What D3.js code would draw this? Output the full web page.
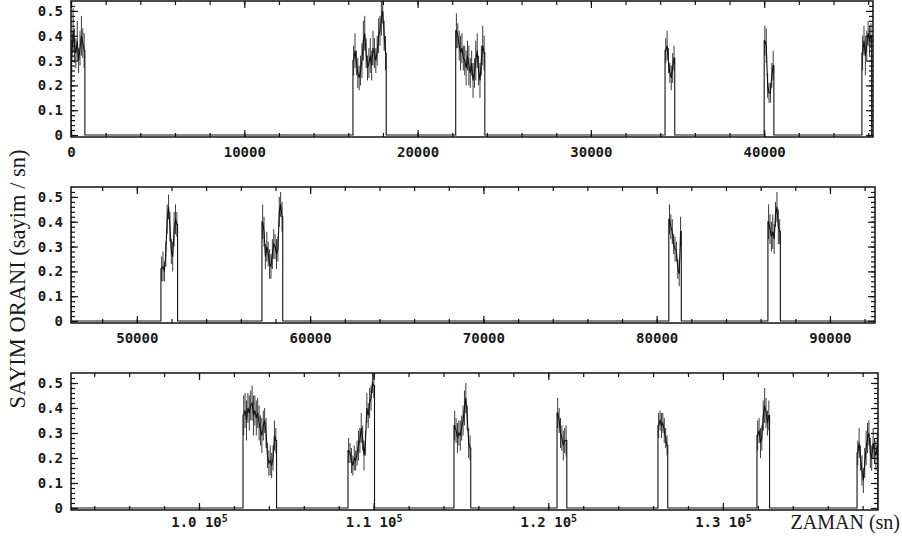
<!DOCTYPE html>
<html>
<head>
<meta charset="utf-8">
<script src="https://cdn.jsdelivr.net/npm/d3@7"></script>
<style>
  body { margin: 0; background: #fff; }
  svg { display: block; }
  .tick text { font-family: "DejaVu Sans Mono", monospace; font-weight: bold; font-size: 14px; fill: #1a1a1a; }
</style>
</head>
<body>
<div id="chart"></div>
<script>
// Light curve bins: start time of each observing window, 80 s bins
const binSize = 80;
const segStart = [0, 16270, 22200, 34280, 40000, 45640, 51390, 57220, 80700, 86420,
  102520, 108530, 114600, 120500, 126280, 131950, 137680];

const segRate = [
  [0.30, 0.42, 0.36, 0.33, 0.38, 0.30, 0.35, 0.40, 0.37, 0.34],
  [0.30, 0.34, 0.29, 0.25, 0.23, 0.26, 0.30, 0.38, 0.41, 0.33, 0.27, 0.29, 0.32, 0.28, 0.35, 0.33, 0.30, 0.34, 0.40, 0.42, 0.47, 0.50, 0.40, 0.33],
  [0.42, 0.40, 0.36, 0.33, 0.35, 0.31, 0.30, 0.27, 0.32, 0.28, 0.25, 0.29, 0.22, 0.25, 0.30, 0.34, 0.26, 0.22, 0.30, 0.36, 0.33],
  [0.34, 0.36, 0.30, 0.25, 0.23, 0.27, 0.31],
  [0.38, 0.36, 0.20, 0.17, 0.17, 0.24, 0.28],
  [0.33, 0.38, 0.32, 0.36, 0.41, 0.38, 0.40],
  [0.21, 0.22, 0.20, 0.27, 0.41, 0.46, 0.38, 0.28, 0.26, 0.37, 0.41, 0.39],
  [0.40, 0.36, 0.26, 0.30, 0.27, 0.23, 0.22, 0.27, 0.31, 0.30, 0.27, 0.29, 0.44, 0.47, 0.42],
  [0.41, 0.38, 0.36, 0.31, 0.29, 0.28, 0.21, 0.19, 0.36],
  [0.40, 0.37, 0.34, 0.36, 0.33, 0.43, 0.46, 0.38, 0.36],
  [0.37, 0.39, 0.35, 0.40, 0.38, 0.41, 0.42, 0.37, 0.39, 0.36, 0.38, 0.34, 0.31, 0.29, 0.33, 0.35, 0.30, 0.21, 0.18, 0.19, 0.17, 0.20, 0.29, 0.27],
  [0.23, 0.22, 0.19, 0.17, 0.20, 0.19, 0.22, 0.25, 0.27, 0.32, 0.28, 0.21, 0.26, 0.40, 0.37, 0.42, 0.44, 0.50, 0.49],
  [0.33, 0.31, 0.28, 0.30, 0.29, 0.32, 0.35, 0.40, 0.44, 0.36, 0.26, 0.24],
  [0.38, 0.35, 0.30, 0.28, 0.25, 0.27, 0.27],
  [0.33, 0.35, 0.33, 0.34, 0.31, 0.28, 0.25],
  [0.29, 0.31, 0.26, 0.28, 0.37, 0.41, 0.38, 0.34, 0.37],
  [0.22, 0.26, 0.20, 0.15, 0.11, 0.18, 0.24, 0.28, 0.30, 0.22, 0.20, 0.26, 0.23, 0.21, 0.25]
];

const segErr = [
  [0.08, 0.09, 0.07, 0.06, 0.08, 0.05, 0.07, 0.08, 0.06, 0.07],
  [0.06, 0.07, 0.05, 0.06, 0.05, 0.06, 0.07, 0.08, 0.07, 0.06, 0.05, 0.06, 0.07, 0.06, 0.07, 0.06, 0.05, 0.06, 0.07, 0.06, 0.07, 0.05, 0.06, 0.07],
  [0.07, 0.05, 0.06, 0.07, 0.06, 0.05, 0.06, 0.07, 0.06, 0.08, 0.06, 0.05, 0.07, 0.06, 0.08, 0.07, 0.06, 0.07, 0.06, 0.08, 0.07],
  [0.05, 0.06, 0.05, 0.04, 0.05, 0.06, 0.05],
  [0.06, 0.07, 0.05, 0.04, 0.04, 0.05, 0.06],
  [0.07, 0.06, 0.08, 0.06, 0.05, 0.06, 0.05],
  [0.05, 0.06, 0.04, 0.05, 0.06, 0.05, 0.06, 0.05, 0.06, 0.07, 0.06, 0.05],
  [0.07, 0.06, 0.05, 0.06, 0.05, 0.06, 0.05, 0.06, 0.06, 0.05, 0.06, 0.05, 0.06, 0.05, 0.06],
  [0.06, 0.05, 0.05, 0.04, 0.05, 0.04, 0.04, 0.05, 0.06],
  [0.07, 0.06, 0.06, 0.07, 0.06, 0.05, 0.06, 0.07, 0.05],
  [0.08, 0.07, 0.08, 0.06, 0.07, 0.06, 0.07, 0.08, 0.06, 0.07, 0.06, 0.07, 0.06, 0.07, 0.06, 0.05, 0.06, 0.05, 0.05, 0.06, 0.05, 0.05, 0.06, 0.05],
  [0.05, 0.04, 0.05, 0.04, 0.05, 0.04, 0.05, 0.06, 0.05, 0.06, 0.05, 0.06, 0.05, 0.06, 0.05, 0.06, 0.05, 0.04, 0.05],
  [0.06, 0.05, 0.06, 0.05, 0.06, 0.05, 0.06, 0.07, 0.06, 0.05, 0.06, 0.05],
  [0.06, 0.05, 0.06, 0.05, 0.06, 0.05, 0.06],
  [0.05, 0.04, 0.05, 0.04, 0.05, 0.04, 0.04],
  [0.06, 0.05, 0.06, 0.05, 0.06, 0.07, 0.06, 0.05, 0.06],
  [0.05, 0.06, 0.05, 0.06, 0.05, 0.06, 0.07, 0.06, 0.05, 0.06, 0.05, 0.06, 0.05, 0.06, 0.05]
];

// Axis ticks
const yTicks = [0, 0.1, 0.2, 0.3, 0.4, 0.5];
const topTicks = [0, 10000, 20000, 30000, 40000];
const midTicks = [50000, 60000, 70000, 80000, 90000];
const botTicks = [100000, 110000, 120000, 130000];
const botTickLabels = ["1.0", "1.1", "1.2", "1.3"];

// Panel layout
const panels = [
  { domain: [0, 46280], left: 71, right: 873, top: 1, bottom: 137, ticks: topTicks, labelPad: 10 },
  { domain: [46200, 92600], left: 71, right: 875, top: 187, bottom: 323, ticks: midTicks, labelPad: 10 },
  { domain: [92670, 138880], left: 71, right: 878, top: 373, bottom: 510, ticks: botTicks, labelPad: 7, sci: true }
];

// Flatten bins
const bins = [];
segRate.forEach((rates, s) => {
  rates.forEach((r, i) => {
    bins.push({ seg: s, t: segStart[s] + (i + 0.5) * binSize, rate: r, err: segErr[s][i] });
  });
});

const svg = d3.select("#chart").append("svg")
  .attr("width", 902)
  .attr("height", 540);

panels.forEach((p, pi) => {
  const x = d3.scaleLinear().domain(p.domain).range([p.left, p.right]);
  const y = d3.scaleLinear().domain([-0.008, 0.54]).range([p.bottom, p.top]);

  const clipId = "clip" + pi;
  svg.append("clipPath").attr("id", clipId)
    .append("rect")
    .attr("x", p.left).attr("y", p.top)
    .attr("width", p.right - p.left).attr("height", p.bottom - p.top);

  const g = svg.append("g").attr("clip-path", `url(#${clipId})`);

  // Line: zero level between windows, rate values inside
  const pts = [[p.domain[0], 0]];
  segRate.forEach((rates, s) => {
    const t0 = segStart[s];
    const t1 = t0 + rates.length * binSize;
    if (t1 < p.domain[0] || t0 > p.domain[1]) return;
    pts.push([t0, 0], [t0, rates[0]]);
    rates.forEach((r, i) => pts.push([t0 + (i + 0.5) * binSize, r]));
    pts.push([t1, rates[rates.length - 1]], [t1, 0]);
  });
  pts.push([p.domain[1], 0]);

  const inPanel = bins.filter(d => d.t >= p.domain[0] && d.t <= p.domain[1]);

  g.selectAll(".err")
    .data(inPanel)
    .join("line")
    .attr("x1", d => x(d.t)).attr("x2", d => x(d.t))
    .attr("y1", d => y(d.rate - d.err)).attr("y2", d => y(d.rate + d.err))
    .attr("stroke", "#3a3a3a")
    .attr("stroke-width", 1);

  g.append("path")
    .datum(pts)
    .attr("fill", "none")
    .attr("stroke", "#111")
    .attr("stroke-width", 1.1)
    .attr("d", d3.line().x(d => x(d[0])).y(d => y(d[1])));

  // Minor ticks
  const xMinor = d3.range(Math.ceil(p.domain[0] / 2000) * 2000, p.domain[1], 2000);
  const yMinor = d3.range(0, 0.54, 0.02);

  svg.append("g").attr("transform", `translate(0,${p.bottom})`)
    .call(d3.axisBottom(x).tickValues(xMinor).tickSize(-4).tickFormat(""));
  svg.append("g").attr("transform", `translate(0,${p.top})`)
    .call(d3.axisTop(x).tickValues(xMinor).tickSize(-4).tickFormat(""));
  svg.append("g").attr("transform", `translate(${p.left},0)`)
    .call(d3.axisLeft(y).tickValues(yMinor).tickSize(-4).tickFormat(""));
  svg.append("g").attr("transform", `translate(${p.right},0)`)
    .call(d3.axisRight(y).tickValues(yMinor).tickSize(-4).tickFormat(""));

  // Major ticks with labels
  const xAxis = svg.append("g").attr("transform", `translate(0,${p.bottom})`)
    .call(d3.axisBottom(x).tickValues(p.ticks).tickSize(-7).tickPadding(p.labelPad)
      .tickFormat(d => d));
  svg.append("g").attr("transform", `translate(0,${p.top})`)
    .call(d3.axisTop(x).tickValues(p.ticks).tickSize(-7).tickFormat(""));
  svg.append("g").attr("transform", `translate(${p.left},0)`)
    .call(d3.axisLeft(y).tickValues(yTicks).tickSize(-7).tickPadding(8)
      .tickFormat(d => d === 0 ? "0" : d.toFixed(1)));
  svg.append("g").attr("transform", `translate(${p.right},0)`)
    .call(d3.axisRight(y).tickValues(yTicks).tickSize(-7).tickFormat(""));

  if (p.sci) {
    xAxis.selectAll(".tick text").each(function (d, i) {
      const t = d3.select(this).text(null);
      t.append("tspan").text(botTickLabels[i] + " 10");
      t.append("tspan").attr("dy", "-0.45em").style("font-size", "10px").text("5");
    });
  }

  svg.selectAll(".domain").remove();

  // Frame
  svg.append("rect")
    .attr("x", p.left).attr("y", p.top)
    .attr("width", p.right - p.left).attr("height", p.bottom - p.top)
    .attr("fill", "none")
    .attr("stroke", "#111")
    .attr("stroke-width", 1.5);
});

svg.selectAll(".tick line").attr("stroke", "#111").attr("stroke-width", 1.2);

// Axis titles
svg.append("text")
  .attr("transform", "translate(25,279) rotate(-90)")
  .attr("text-anchor", "middle")
  .style("font-family", "'Liberation Serif', serif")
  .style("font-size", "22.5px")
  .attr("fill", "#1a1a1a")
  .text("SAYIM ORANI (sayim / sn)");

svg.append("text")
  .attr("x", 900)
  .attr("y", 529)
  .attr("text-anchor", "end")
  .style("font-family", "'Liberation Serif', serif")
  .style("font-size", "20px")
  .attr("fill", "#1a1a1a")
  .text("ZAMAN (sn)");
</script>
</body>
</html>
